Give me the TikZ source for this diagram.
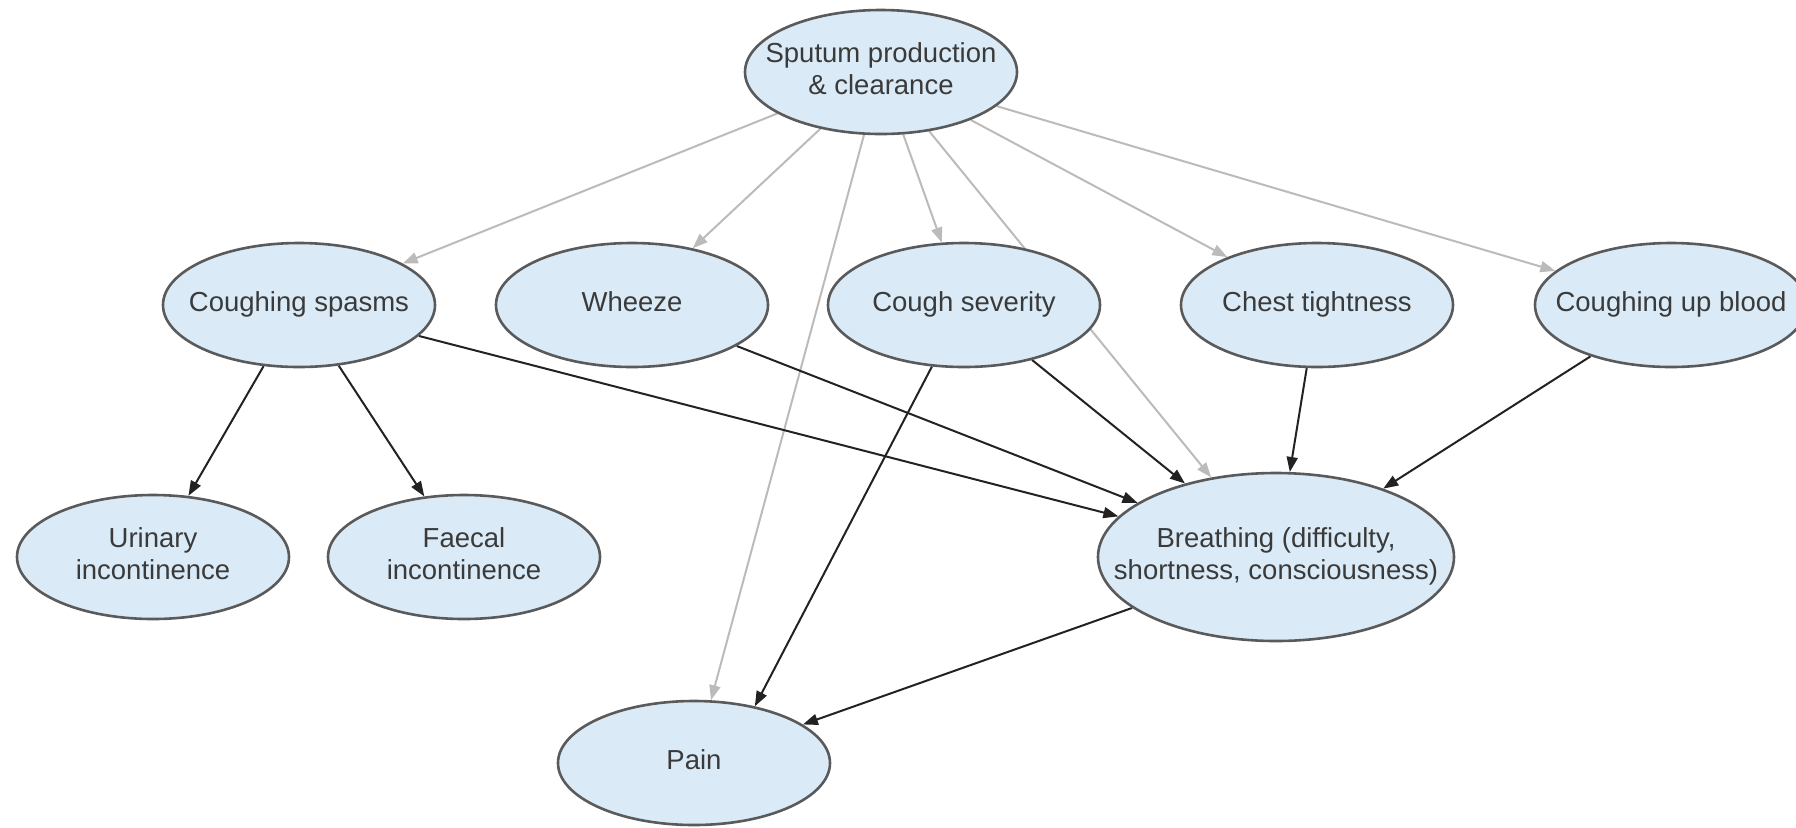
\documentclass[tikz,border=0pt]{standalone}
\usepackage{fontspec}
\setmainfont{Liberation Sans}
\usetikzlibrary{shapes.geometric,arrows.meta}
\pgfdeclarelayer{background}
\pgfsetlayers{background,main}
\definecolor{nodefill}{HTML}{DAEBF7}
\definecolor{nodeline}{HTML}{5A5A5A}
\definecolor{nodetext}{HTML}{3A3A3A}
\definecolor{linkdark}{HTML}{222222}
\definecolor{linklight}{HTML}{BBBBBB}
% label of zero width, so the ellipse keeps its given size
\newcommand\lbl[1]{\makebox[0pt][c]{\begin{tabular}{@{}c@{}}#1\end{tabular}}}
\tikzset{
  factor/.style={ellipse, draw=nodeline, line width=1.3pt, fill=nodefill,
    text=nodetext, inner sep=0pt,
    minimum width=136pt, minimum height=62pt,
    font=\fontsize{13.75}{16}\selectfont},
  bigfactor/.style={factor, minimum width=178pt, minimum height=84pt},
  strong/.style={draw=linkdark, line width=1pt,
    -{Triangle[length=7.5pt,width=5.5pt]}},
  weak/.style={draw=linklight, line width=1pt,
    -{Triangle[length=7.5pt,width=5.5pt]}}
}
\begin{document}
\begin{tikzpicture}[x=0.5pt,y=-0.5pt]
\useasboundingbox (0,0) rectangle (1796,827);
\begin{scope}
\clip (0,0) rectangle (1796,827);
% symptom nodes
\node[factor] (sputum) at (881,72) {\lbl{Sputum production\\\& clearance}};
\node[factor] (spasms) at (299,305) {\lbl{Coughing spasms}};
\node[factor] (wheeze) at (632,305) {\lbl{Wheeze}};
\node[factor] (severity) at (964,305) {\lbl{Cough severity}};
\node[factor] (chest) at (1317,305) {\lbl{Chest tightness}};
\node[factor] (blood) at (1671,305) {\lbl{Coughing up blood}};
\node[factor] (urinary) at (153,557) {\lbl{Urinary\\incontinence}};
\node[factor] (faecal) at (464,557) {\lbl{Faecal\\incontinence}};
\node[bigfactor] (breathing) at (1276,557) {\lbl{Breathing (difficulty,\\shortness, consciousness)}};
\node[factor] (pain) at (694,763) {\lbl{Pain}};
% links, kept behind the nodes
\begin{pgfonlayer}{background}
\draw[weak] (sputum) -- (spasms);
\draw[weak] (sputum) -- (wheeze);
\draw[weak] (sputum) -- (pain);
\draw[weak] (sputum) -- (severity);
\draw[weak] (sputum.center) -- (breathing);
\draw[weak] (sputum) -- (chest);
\draw[weak] (sputum) -- (blood);
\draw[strong] (spasms) -- (urinary);
\draw[strong] (spasms) -- (faecal);
\draw[strong] (spasms) -- (breathing);
\draw[strong] (wheeze) -- (breathing);
\draw[strong] (severity) -- (pain.43);
\draw[strong] (severity) -- (breathing);
\draw[strong] (chest) -- (breathing);
\draw[strong] (blood) -- (breathing);
\draw[strong] (breathing) -- (pain);
\end{pgfonlayer}
\end{scope}
\end{tikzpicture}
\end{document}
